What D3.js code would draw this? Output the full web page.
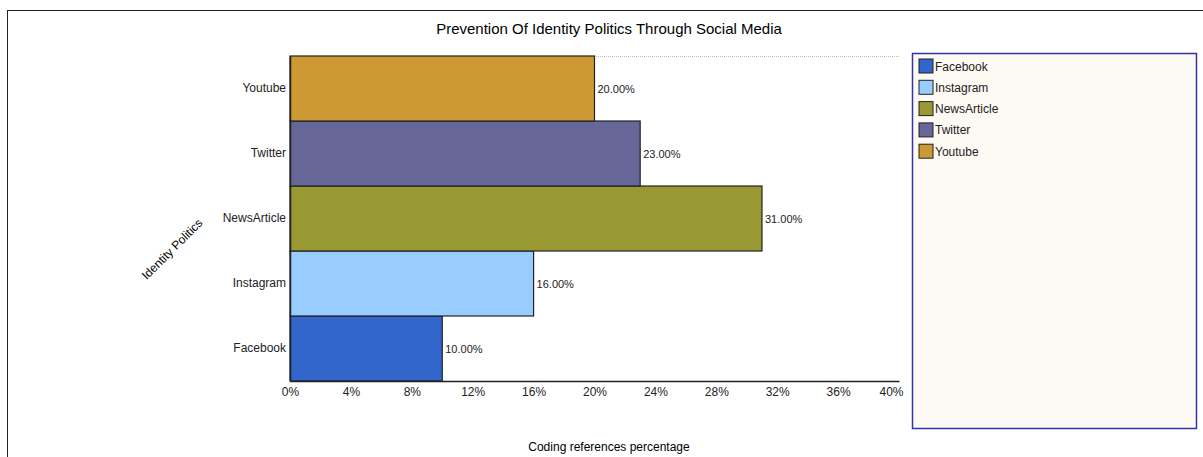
<!DOCTYPE html>
<html>
<head>
<meta charset="utf-8">
<script src="https://d3js.org/d3.v7.min.js"></script>
<style>
  body { margin: 0; background: #fff; }
  svg { font-family: "Liberation Sans", Arial, sans-serif; display: block; }
</style>
</head>
<body>
<svg></svg>
<script>
var categories = ["Facebook", "Instagram", "NewsArticle", "Twitter", "Youtube"];
var values = [10, 16, 31, 23, 20];
var colors = ["#3366cc", "#99ccff", "#999933", "#666699", "#cc9933"];
var xTicks = [0, 4, 8, 12, 16, 20, 24, 28, 32, 36, 40];

var margin = {top: 56, left: 290},
    width = 899 - 290,
    height = 381 - 56;

var svg = d3.select("svg")
    .attr("width", 1203)
    .attr("height", 457);

// outer frame
svg.append("rect")
    .attr("x", 7.5).attr("y", 10.5)
    .attr("width", 1220).attr("height", 460)
    .attr("fill", "none").attr("stroke", "#222").attr("stroke-width", 1);

svg.append("text")
    .attr("x", 609).attr("y", 34)
    .attr("text-anchor", "middle")
    .style("font-size", "15px")
    .text("Prevention Of Identity Politics Through Social Media");

var g = svg.append("g")
    .attr("transform", "translate(" + margin.left + "," + margin.top + ")");

var x = d3.scaleLinear().domain([0, 40]).range([0, width]);
var y = d3.scaleBand().domain(categories.slice().reverse()).range([0, height]).padding(0);

// dotted top line
g.append("line")
    .attr("x1", 0).attr("x2", width)
    .attr("y1", 0.5).attr("y2", 0.5)
    .attr("stroke", "#bbb").attr("stroke-dasharray", "1,1");

g.selectAll(".bar")
    .data(categories)
  .enter().append("rect")
    .attr("class", "bar")
    .attr("x", 0)
    .attr("y", function(d) { return y(d); })
    .attr("width", function(d, i) { return x(values[i]); })
    .attr("height", y.bandwidth())
    .attr("fill", function(d, i) { return colors[i]; })
    .attr("stroke", "#222").attr("stroke-width", 1.2);

g.selectAll(".val")
    .data(categories)
  .enter().append("text")
    .attr("x", function(d, i) { return x(values[i]) + 3; })
    .attr("y", function(d) { return y(d) + y.bandwidth() / 2 + 4; })
    .style("font-size", "11px")
    .attr("fill", "#222")
    .text(function(d, i) { return values[i].toFixed(2) + "%"; });

var xAxis = d3.axisBottom(x).tickValues(xTicks).tickSize(0).tickPadding(6)
    .tickFormat(function(d) { return d + "%"; });
var xg = g.append("g")
    .attr("transform", "translate(0," + height + ")")
    .call(xAxis);
xg.select(".domain").attr("stroke", "#222").attr("stroke-width", 1.5);
xg.selectAll("text").style("font-size", "12px").attr("fill", "#222")
    .attr("font-family", "Liberation Sans, Arial, sans-serif");
// last label kept inside the plot edge
xg.selectAll(".tick").filter(function(d) { return d === 40; })
    .select("text").attr("text-anchor", "end").attr("x", 4);

var yAxis = d3.axisLeft(y).tickSize(0).tickPadding(4);
var yg = g.append("g").call(yAxis);
yg.select(".domain").attr("stroke", "#222").attr("stroke-width", 1.5);
yg.selectAll("text").style("font-size", "12px").attr("fill", "#222")
    .attr("font-family", "Liberation Sans, Arial, sans-serif");

svg.append("text")
    .attr("transform", "translate(175,252) rotate(-45)")
    .attr("text-anchor", "middle")
    .style("font-size", "12px")
    .text("Identity Politics");

svg.append("text")
    .attr("x", 609).attr("y", 451)
    .attr("text-anchor", "middle")
    .style("font-size", "12px")
    .text("Coding references percentage");

// legend
var legend = svg.append("g");
legend.append("rect")
    .attr("x", 912.5).attr("y", 53.5)
    .attr("width", 284).attr("height", 375)
    .attr("fill", "#fdf9f3").attr("stroke", "#3333aa").attr("stroke-width", 1.5);

var items = legend.selectAll(".item")
    .data(categories)
  .enter().append("g")
    .attr("transform", function(d, i) { return "translate(919," + (59 + i * 21.3) + ")"; });
items.append("rect")
    .attr("width", 14).attr("height", 14)
    .attr("fill", function(d, i) { return colors[i]; })
    .attr("stroke", "#222").attr("stroke-width", 1);
items.append("text")
    .attr("x", 16).attr("y", 11.5)
    .style("font-size", "12px")
    .attr("fill", "#222")
    .text(function(d) { return d; });
</script>
</body>
</html>
